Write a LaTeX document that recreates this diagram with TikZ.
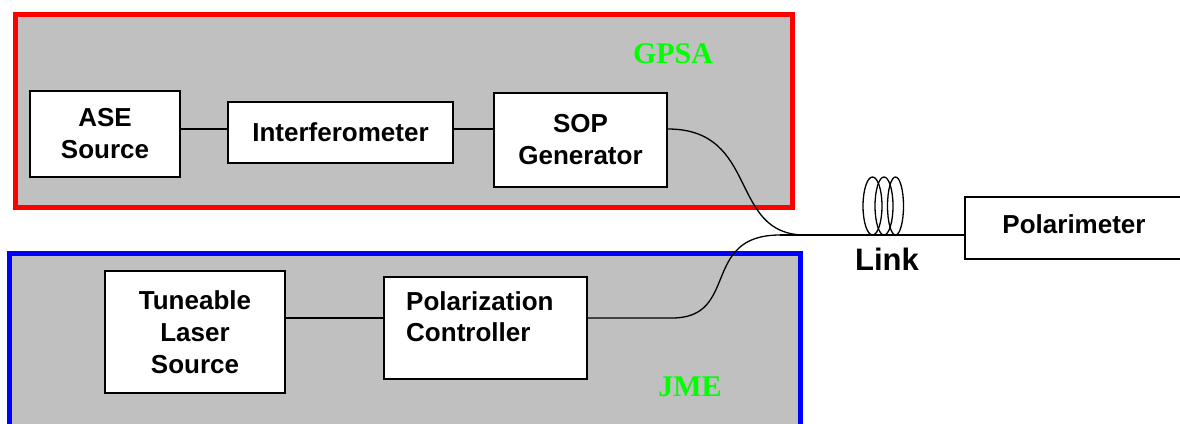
\documentclass[tikz,border=0pt]{standalone}
\usepackage{fontspec}
\setmainfont{Liberation Serif}
\setsansfont{Liberation Sans}
\usetikzlibrary{calc}
\definecolor{panelgray}{HTML}{C0C0C0}
\definecolor{gpsared}{HTML}{FF0000}
\definecolor{jmeblue}{HTML}{0000FF}
\definecolor{labelgreen}{HTML}{00FF00}
\tikzset{
  blockbox/.style={draw=black, fill=white, line width=1.5pt, align=center, inner sep=0pt,
    font=\sffamily\bfseries\fontsize{26}{32}\selectfont},
  panel/.style={fill=panelgray, line width=5pt},
  fiber/.style={draw=black, line width=1.3pt},
  grouplabel/.style={text=labelgreen, font=\rmfamily\bfseries\fontsize{30}{36}\selectfont, inner sep=0pt, anchor=base},
  coil/.style={draw=black, line width=1.3pt}
}
\begin{document}
\begin{tikzpicture}[x=1pt,y=-1pt]
\useasboundingbox (0,0) rectangle (1180,423);
\clip (0,0) rectangle (1180,423);
% panels
\draw[panel, draw=gpsared] (15.5,14.5) rectangle (792.5,207.5);
\draw[panel, draw=jmeblue] (9,253) rectangle (800.5,440);
% GPSA blocks
\node[blockbox, minimum width=150pt, minimum height=86pt] (ase) at (105,134) {ASE\\Source};
\node[blockbox, minimum width=225pt, minimum height=61pt] (intf) at (340.5,132.5) {Interferometer};
\node[blockbox, minimum width=173pt, minimum height=94pt] (sop) at (580.5,140) {SOP\\Generator};
% JME blocks
\node[blockbox, minimum width=180pt, minimum height=122pt] (tls) at (195,332) {Tuneable\\Laser\\Source};
\node[blockbox, minimum width=203pt, minimum height=102pt] (pc) at (485.5,328) {};
\node[anchor=north west, inner sep=0pt, align=left,
  font=\sffamily\bfseries\fontsize{26}{31}\selectfont] (pctext) at (406,291) {Polarization\\Controller};
% Polarimeter
\node[blockbox, minimum width=230pt, minimum height=62pt] (pol) at (1080,228) {};
\node[inner sep=0pt, anchor=base, font=\sffamily\bfseries\fontsize{26}{32}\selectfont] (poltext) at (1074,233) {Polarimeter};
% labels
\node[grouplabel] (gpsa) at (673,63) {GPSA};
\node[grouplabel] (jme) at (690,396) {JME};
% connectors
\draw[fiber] (ase.east |- 0,129) -- (intf.west |- 0,129);
\draw[fiber] (intf.east |- 0,129) -- (sop.west |- 0,129);
\draw[fiber] (tls.east |- 0,318) -- (pc.west |- 0,318);
% fibers
\coordinate (sopout) at (sop.east |- 0,129);
\coordinate (joinA) at (805,235);
\coordinate (joinB) at (780,235);
\coordinate (pcbend) at (672,318);
\draw[fiber] (sopout) .. controls (760,129) and (728,235) .. (joinA);
\draw[fiber] (pc.east |- 0,318) -- (pcbend) .. controls (740,318) and (700,235) .. (joinB);
\draw[fiber] (joinB) -- (pol.west |- joinB);
% coil
\draw[coil] (872.5,206) ellipse [x radius=9.5pt, y radius=29pt];
\draw[coil] (884,206) ellipse [x radius=9pt, y radius=29pt];
\draw[coil] (895.5,206) ellipse [x radius=8pt, y radius=29pt];
\node[inner sep=0pt, anchor=base, font=\sffamily\bfseries\fontsize{31}{36}\selectfont] (link) at (887,270) {Link};
\end{tikzpicture}
\end{document}
